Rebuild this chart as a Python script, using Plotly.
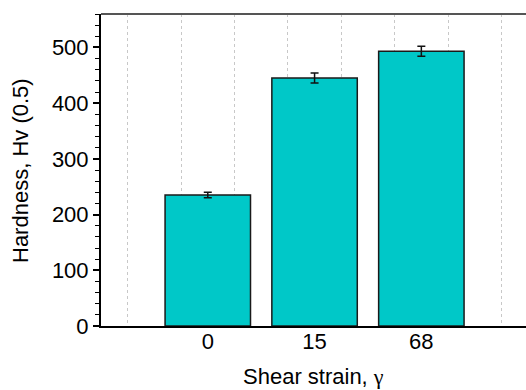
import plotly.graph_objects as go

categories = ["0", "15", "68"]
hardness = [235, 445, 493]
errors = [5, 9, 9]

positions = list(range(1, len(categories) + 1))

fig = go.Figure()
fig.add_trace(go.Bar(
    x=positions, y=hardness, width=0.8,
    marker=dict(color="#00C8C8", line=dict(color="#1a1a1a", width=1.5)),
    error_y=dict(type="data", array=errors, color="#111111", thickness=1.5, width=4),
    showlegend=False,
))

font_family = "Liberation Sans, Arial, sans-serif"
FS = 22
L, R, T, B = 101, 0, 14, 64
W, H = 526, 390
pw, ph = W - L - R, H - T - B

fig.update_layout(
    width=W, height=H,
    margin=dict(l=L, r=R, t=T, b=B, autoexpand=False),
    plot_bgcolor="white", paper_bgcolor="white",
    font=dict(family=font_family, size=FS, color="black"),
    xaxis=dict(
        range=[0, 3.98], tickmode="array", tickvals=positions, ticktext=categories,
        ticks="", showgrid=False, zeroline=False, automargin=False,
        showline=True, linecolor="black", linewidth=2,
        tickfont=dict(size=FS), ticklabelstandoff=-5,
        minor=dict(tick0=0.25, dtick=0.5, showgrid=True, gridcolor="#c8c8c8",
                   griddash="dot", gridwidth=1, ticks=""),
    ),
    yaxis=dict(
        range=[0, 560], dtick=100, ticks="outside", ticklen=6, tickwidth=1.5,
        tickcolor="black", showgrid=False, zeroline=False, automargin=False,
        showline=True, linecolor="black", linewidth=2,
        tickfont=dict(size=FS),
        minor=dict(dtick=20, ticks="outside", ticklen=4, tickwidth=1.2, tickcolor="black"),
    ),
    shapes=[dict(type="line", xref="paper", yref="paper", x0=0, x1=1, y0=1, y1=1,
                 line=dict(color="#555555", width=2))],
    annotations=[
        dict(text="Shear strain, <span style='font-family:Liberation Serif, Times New Roman, serif'>γ</span>",
             xref="paper", yref="paper", x=0.5, y=-(376 - (T + ph)) / ph,
             xanchor="center", yanchor="middle", showarrow=False, font=dict(size=FS)),
        dict(text="Hardness, Hv (0.5)", textangle=-90,
             xref="paper", yref="paper", x=-(L - 20) / pw, y=(T + ph - 171) / ph,
             xanchor="center", yanchor="middle", showarrow=False, font=dict(size=FS)),
    ],
)

fig.write_html("out.html", config={"displayModeBar": False},
               post_script="document.body.style.margin='0';document.body.style.overflow='hidden';")
